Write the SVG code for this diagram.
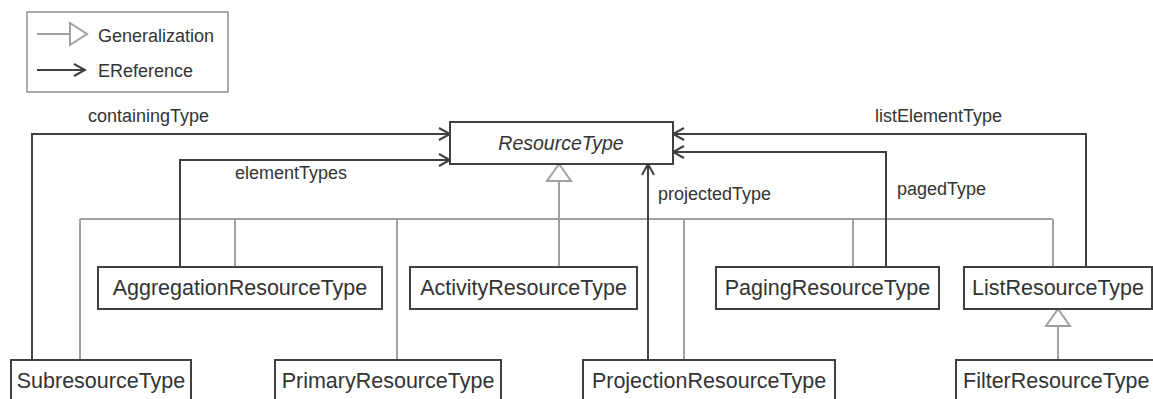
<svg xmlns="http://www.w3.org/2000/svg" width="1153" height="399" viewBox="0 0 1153 399">
<style>
text{font-family:"Liberation Sans",Arial,sans-serif;fill:#333}
.node rect{fill:#fff;stroke:#404040;stroke-width:2}
.node text{font-size:21.5px;text-anchor:middle}
.lbl{font-size:18px}
.gen{fill:none;stroke:#a0a0a0;stroke-width:2}
.tri{fill:#fff;stroke:#a0a0a0;stroke-width:2}
.ref{fill:none;stroke:#404040;stroke-width:2;marker-end:url(#arr)}
</style>
<defs>
<marker id="arr" markerUnits="userSpaceOnUse" viewBox="-13 -8 15 16" refX="0" refY="0" markerWidth="15" markerHeight="16" orient="auto">
<path d="M-11,-6 L0,0 L-11,6" fill="none" stroke="#404040" stroke-width="2"/>
</marker>
</defs>
<g id="legend">
<rect x="27" y="12" width="201" height="80" fill="#fff" stroke="#909090" stroke-width="1.5"/>
<line x1="37" y1="34" x2="70" y2="34" class="gen"/>
<polygon points="70,23 87,34 70,45" class="tri"/>
<text x="98" y="41.5" class="lbl">Generalization</text>
<line x1="37" y1="70" x2="85" y2="70" class="ref"/>
<text x="98" y="77" class="lbl">EReference</text>
</g>
<g id="connectors">
<path class="gen" d="M559,181 V219 M80,219 H1053 M80,219 V360 M235,219 V267 M397,219 V360 M559,219 V267 M684,219 V360 M853,219 V267 M1053,219 V267"/>
<polygon class="tri" points="559,164 547,181 571,181"/>
<path class="gen" d="M1058,326 V360"/>
<polygon class="tri" points="1058,309 1046,326 1070,326"/>
<path class="ref" d="M32,360 V134 H450"/>
<path class="ref" d="M180,267 V160 H450"/>
<path class="ref" d="M648,360 V164"/>
<path class="ref" d="M886,267 V152 H673"/>
<path class="ref" d="M1086,267 V134 H673"/>
<text x="88" y="122" class="lbl">containingType</text>
<text x="235" y="179" class="lbl">elementTypes</text>
<text x="658" y="200" class="lbl">projectedType</text>
<text x="897" y="195" class="lbl">pagedType</text>
<text x="875" y="122" class="lbl">listElementType</text>
</g>
<g id="ResourceType" class="node">
<rect x="450" y="122" width="223" height="42"/>
<text x="561" y="150" style="font-style:italic;font-size:19.5px">ResourceType</text>
</g>
<g id="AggregationResourceType" class="node">
<rect x="98" y="267" width="284" height="42"/>
<text x="240" y="295">AggregationResourceType</text>
</g>
<g id="ActivityResourceType" class="node">
<rect x="410" y="267" width="227" height="42"/>
<text x="523.5" y="295">ActivityResourceType</text>
</g>
<g id="PagingResourceType" class="node">
<rect x="716" y="267" width="223" height="42"/>
<text x="827.5" y="295">PagingResourceType</text>
</g>
<g id="ListResourceType" class="node">
<rect x="964" y="267" width="188" height="42"/>
<text x="1058" y="295">ListResourceType</text>
</g>
<g id="SubresourceType" class="node">
<rect x="11" y="360" width="180" height="44"/>
<text x="101" y="388">SubresourceType</text>
</g>
<g id="PrimaryResourceType" class="node">
<rect x="275" y="360" width="226" height="44"/>
<text x="388" y="388">PrimaryResourceType</text>
</g>
<g id="ProjectionResourceType" class="node">
<rect x="583" y="360" width="252" height="44"/>
<text x="709" y="388">ProjectionResourceType</text>
</g>
<g id="FilterResourceType" class="node">
<rect x="956" y="360" width="210" height="44"/>
<text x="963" y="388" style="text-anchor:start">FilterResourceType</text>
</g>
</svg>
